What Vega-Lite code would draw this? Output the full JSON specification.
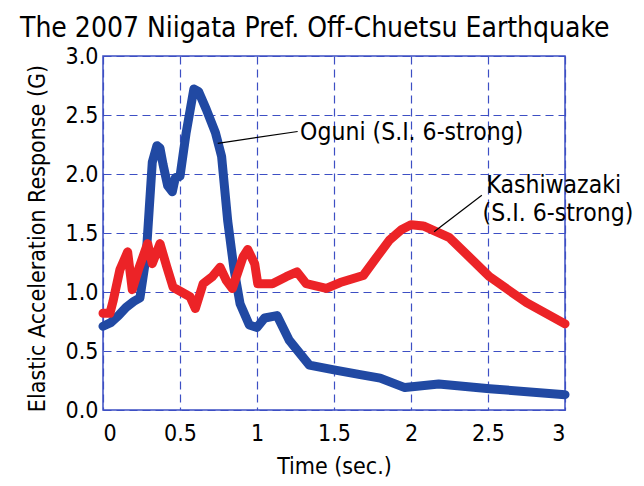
{
  "$schema": "https://vega.github.io/schema/vega-lite/v6.json",
  "width": 462,
  "height": 354,
  "autosize": "none",
  "padding": {"left": 103, "top": 56, "right": 79, "bottom": 76},
  "background": "white",
  "title": {
    "text": "The 2007 Niigata Pref. Off-Chuetsu Earthquake",
    "anchor": "start",
    "frame": "group",
    "dx": -83,
    "dy": 4,
    "offset": 6,
    "font": "DejaVu Sans Condensed, Liberation Sans, sans-serif",
    "fontSize": 28,
    "fontWeight": "normal",
    "color": "black"
  },
  "config": {
    "font": "DejaVu Sans Condensed, Liberation Sans, sans-serif",
    "view": {"stroke": "#3d4fc4", "strokeWidth": 1.5},
    "axis": {
      "grid": true,
      "gridColor": "#3d4fc4",
      "gridDash": [8, 5],
      "gridWidth": 1.2,
      "gridOpacity": 1,
      "domain": false,
      "ticks": false,
      "labelFont": "DejaVu Sans Condensed, Liberation Sans, sans-serif",
      "labelFontSize": 23,
      "labelColor": "black",
      "titleFont": "DejaVu Sans Condensed, Liberation Sans, sans-serif",
      "titleFontSize": 23,
      "titleFontWeight": "normal",
      "titleColor": "black"
    }
  },
  "datasets": {
    "curves": [
      {"series": "Oguni", "t": 0.0, "v": 0.71},
      {"series": "Oguni", "t": 0.05, "v": 0.74},
      {"series": "Oguni", "t": 0.1, "v": 0.8},
      {"series": "Oguni", "t": 0.15, "v": 0.87},
      {"series": "Oguni", "t": 0.2, "v": 0.92},
      {"series": "Oguni", "t": 0.24, "v": 0.95},
      {"series": "Oguni", "t": 0.28, "v": 1.3},
      {"series": "Oguni", "t": 0.3, "v": 1.7},
      {"series": "Oguni", "t": 0.32, "v": 2.1},
      {"series": "Oguni", "t": 0.35, "v": 2.24},
      {"series": "Oguni", "t": 0.37, "v": 2.22},
      {"series": "Oguni", "t": 0.39, "v": 2.08},
      {"series": "Oguni", "t": 0.42, "v": 1.9},
      {"series": "Oguni", "t": 0.45, "v": 1.85},
      {"series": "Oguni", "t": 0.47, "v": 1.97},
      {"series": "Oguni", "t": 0.5, "v": 1.98},
      {"series": "Oguni", "t": 0.54, "v": 2.35},
      {"series": "Oguni", "t": 0.59, "v": 2.72},
      {"series": "Oguni", "t": 0.62, "v": 2.7},
      {"series": "Oguni", "t": 0.67, "v": 2.55},
      {"series": "Oguni", "t": 0.73, "v": 2.35},
      {"series": "Oguni", "t": 0.77, "v": 2.15},
      {"series": "Oguni", "t": 0.81, "v": 1.6},
      {"series": "Oguni", "t": 0.85, "v": 1.2},
      {"series": "Oguni", "t": 0.89, "v": 0.9},
      {"series": "Oguni", "t": 0.95, "v": 0.72},
      {"series": "Oguni", "t": 1.0, "v": 0.7},
      {"series": "Oguni", "t": 1.05, "v": 0.78},
      {"series": "Oguni", "t": 1.13, "v": 0.8},
      {"series": "Oguni", "t": 1.21, "v": 0.59},
      {"series": "Oguni", "t": 1.34, "v": 0.38},
      {"series": "Oguni", "t": 1.5, "v": 0.34},
      {"series": "Oguni", "t": 1.67, "v": 0.3},
      {"series": "Oguni", "t": 1.8, "v": 0.27},
      {"series": "Oguni", "t": 1.96, "v": 0.19},
      {"series": "Oguni", "t": 2.18, "v": 0.22},
      {"series": "Oguni", "t": 2.51, "v": 0.18},
      {"series": "Oguni", "t": 3.0, "v": 0.13},
      {"series": "Kashiwazaki", "t": 0.0, "v": 0.82},
      {"series": "Kashiwazaki", "t": 0.045, "v": 0.82},
      {"series": "Kashiwazaki", "t": 0.065, "v": 0.92},
      {"series": "Kashiwazaki", "t": 0.11, "v": 1.19},
      {"series": "Kashiwazaki", "t": 0.16, "v": 1.34},
      {"series": "Kashiwazaki", "t": 0.19, "v": 1.02},
      {"series": "Kashiwazaki", "t": 0.23, "v": 1.19},
      {"series": "Kashiwazaki", "t": 0.26, "v": 1.3},
      {"series": "Kashiwazaki", "t": 0.29, "v": 1.41},
      {"series": "Kashiwazaki", "t": 0.32, "v": 1.24},
      {"series": "Kashiwazaki", "t": 0.37, "v": 1.41},
      {"series": "Kashiwazaki", "t": 0.415, "v": 1.21},
      {"series": "Kashiwazaki", "t": 0.455, "v": 1.04},
      {"series": "Kashiwazaki", "t": 0.51, "v": 1.0},
      {"series": "Kashiwazaki", "t": 0.565, "v": 0.96},
      {"series": "Kashiwazaki", "t": 0.6, "v": 0.86},
      {"series": "Kashiwazaki", "t": 0.65, "v": 1.07},
      {"series": "Kashiwazaki", "t": 0.71, "v": 1.13},
      {"series": "Kashiwazaki", "t": 0.76, "v": 1.21},
      {"series": "Kashiwazaki", "t": 0.8, "v": 1.1},
      {"series": "Kashiwazaki", "t": 0.84, "v": 1.03},
      {"series": "Kashiwazaki", "t": 0.91, "v": 1.3},
      {"series": "Kashiwazaki", "t": 0.94, "v": 1.36},
      {"series": "Kashiwazaki", "t": 0.985, "v": 1.24},
      {"series": "Kashiwazaki", "t": 1.005, "v": 1.07},
      {"series": "Kashiwazaki", "t": 1.1, "v": 1.07},
      {"series": "Kashiwazaki", "t": 1.19, "v": 1.13},
      {"series": "Kashiwazaki", "t": 1.26, "v": 1.17},
      {"series": "Kashiwazaki", "t": 1.32, "v": 1.07},
      {"series": "Kashiwazaki", "t": 1.45, "v": 1.03},
      {"series": "Kashiwazaki", "t": 1.54, "v": 1.08},
      {"series": "Kashiwazaki", "t": 1.69, "v": 1.14},
      {"series": "Kashiwazaki", "t": 1.78, "v": 1.3},
      {"series": "Kashiwazaki", "t": 1.86, "v": 1.44},
      {"series": "Kashiwazaki", "t": 1.94, "v": 1.53},
      {"series": "Kashiwazaki", "t": 2.0, "v": 1.57},
      {"series": "Kashiwazaki", "t": 2.08, "v": 1.56},
      {"series": "Kashiwazaki", "t": 2.25, "v": 1.46},
      {"series": "Kashiwazaki", "t": 2.51, "v": 1.13},
      {"series": "Kashiwazaki", "t": 2.75, "v": 0.91},
      {"series": "Kashiwazaki", "t": 3.0, "v": 0.73}
    ],
    "leaders": [
      {"t": 0.745, "v": 2.26, "t2": 1.264, "v2": 2.36},
      {"t": 2.15, "v": 1.51, "t2": 2.46, "v2": 1.82}
    ],
    "labels": [
      {"t": 1.28, "v": 2.35, "text": "Oguni (S.I. 6-strong)"},
      {"t": 2.49, "v": 1.9, "text": "Kashiwazaki"},
      {"t": 2.465, "v": 1.66, "text": "(S.I. 6-strong)"}
    ]
  },
  "layer": [
    {
      "mark": {"type": "rect", "fill": null, "stroke": "#e8262a", "strokeWidth": 3},
      "encoding": {
        "x": {"datum": 1, "type": "quantitative", "scale": {"domain": [0, 3], "nice": false},
          "axis": {"values": [0, 0.5, 1, 1.5, 2, 2.5, 3], "format": "~g", "labelPadding": 12, "title": "Time (sec.)", "titlePadding": 10}},
        "x2": {"datum": 2},
        "y": {"datum": 0, "type": "quantitative", "scale": {"domain": [0, 3], "nice": false},
          "axis": {"values": [0, 0.5, 1, 1.5, 2, 2.5, 3], "format": ".1f", "labelPadding": 5, "title": "Elastic Acceleration Response (G)", "titlePadding": 16, "titleY": 182}},
        "y2": {"datum": 3}
      }
    },
    {
      "data": {"name": "curves"},
      "transform": [{"filter": "datum.series === 'Oguni'"}],
      "mark": {"type": "line", "stroke": "#2149a3", "strokeWidth": 9, "strokeJoin": "round", "strokeCap": "round"},
      "encoding": {
        "x": {"field": "t", "type": "quantitative"},
        "y": {"field": "v", "type": "quantitative"}
      }
    },
    {
      "data": {"name": "curves"},
      "transform": [{"filter": "datum.series === 'Kashiwazaki'"}],
      "mark": {"type": "line", "stroke": "#ec2327", "strokeWidth": 9, "strokeJoin": "round", "strokeCap": "round"},
      "encoding": {
        "x": {"field": "t", "type": "quantitative"},
        "y": {"field": "v", "type": "quantitative"}
      }
    },
    {
      "data": {"name": "leaders"},
      "mark": {"type": "rule", "color": "black", "strokeWidth": 1.2},
      "encoding": {
        "x": {"field": "t", "type": "quantitative"},
        "y": {"field": "v", "type": "quantitative"},
        "x2": {"field": "t2"},
        "y2": {"field": "v2"}
      }
    },
    {
      "data": {"name": "labels"},
      "mark": {"type": "text", "align": "left", "baseline": "middle", "fontSize": 24.5, "color": "black"},
      "encoding": {
        "x": {"field": "t", "type": "quantitative"},
        "y": {"field": "v", "type": "quantitative"},
        "text": {"field": "text"}
      }
    }
  ]
}
